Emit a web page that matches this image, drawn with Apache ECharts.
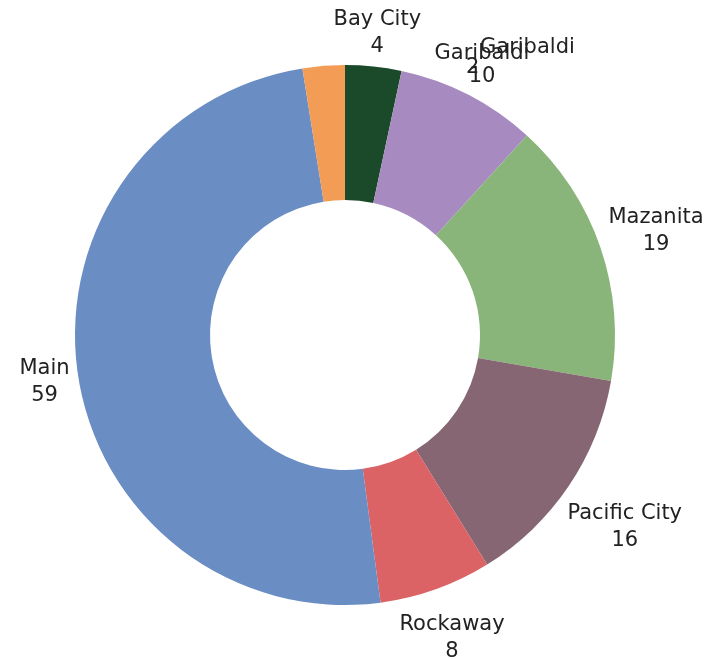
<!DOCTYPE html>
<html>
<head>
<meta charset="utf-8">
<script src="https://cdn.jsdelivr.net/npm/echarts@6/dist/echarts.min.js"></script>
<style>
  html, body { margin: 0; padding: 0; background: #fff; }
  #chart { width: 715px; height: 659px; }
</style>
</head>
<body>
<div id="chart"></div>
<script>
var names = ['Bay City', 'Garibaldi', 'Mazanita', 'Pacific City', 'Rockaway', 'Main', 'Garibaldi']
// slice sizes as drawn (the last slice is drawn wider than its printed value)
var values = [4, 10, 19, 16, 8, 59, 3]
// numbers printed in the labels
var labelValues = [4, 10, 19, 16, 8, 59, 2]
var colors = ['#1a4a2a', '#a78bc0', '#8ab57a', '#876673', '#db6366', '#6a8dc4', '#f39c55']

var cx = 345, cy = 335, rOuter = 270, rInner = 135
var fontFamily = 'DejaVu Sans'
var total = values.reduce(function (a, b) { return a + b }, 0)

// mid angle of every slice, clockwise from 12 o'clock
var midAngles = []
var acc = 0
values.forEach(function (v) {
    midAngles.push(Math.PI / 2 - (acc + v / 2) / total * Math.PI * 2)
    acc += v
})

var seriesData = names.map(function (n, i) {
    var item = { name: n, value: values[i], itemStyle: { color: colors[i] } }
    if (i === 1) {
        item.label = { lineHeight: 23 }
    }
    if (i === 6) {
        // in the original this label sits on top of its neighbour's
        item.label = {
            formatter: '{n|' + n + '}\n{v|' + labelValues[i] + '}',
            rich: {
                n: { fontSize: 21, color: '#222', fontFamily: fontFamily, lineHeight: 20, align: 'left', padding: [0, 0, 0, 14] },
                v: { fontSize: 21, color: '#222', fontFamily: fontFamily, lineHeight: 20, align: 'left' }
            }
        }
    }
    return item
})

var myChart = echarts.init(document.getElementById('chart'))
var option = {
    animation: false,
    series: [
        {
            type: 'pie',
            center: [cx, cy],
            radius: [rInner, rOuter],
            startAngle: 90,
            clockwise: true,
            avoidLabelOverlap: false,
            itemStyle: { borderWidth: 0 },
            label: {
                show: true,
                position: 'outside',
                formatter: function (p) {
                    return p.name + '\n' + labelValues[p.dataIndex]
                },
                fontSize: 21,
                lineHeight: 27,
                color: '#222',
                fontFamily: fontFamily
            },
            labelLine: { show: false, length: 10, length2: 0 },
            labelLayout: function (p) {
                var i = p.dataIndex
                var w = p.labelRect.width, h = p.labelRect.height
                if (i === 1) {
                    return { x: 482, y: 65, align: 'center', verticalAlign: 'middle' }
                }
                if (i === 6) {
                    return { x: 466, y: 58, align: 'left', verticalAlign: 'middle' }
                }
                var a = midAngles[i]
                var ux = Math.cos(a), uy = -Math.sin(a)
                var k = rOuter + 5 + Math.abs(ux) * w / 2 + Math.abs(uy) * h / 2
                return {
                    x: cx + ux * k,
                    y: cy + uy * k + 3,
                    align: 'center',
                    verticalAlign: 'middle'
                }
            },
            data: seriesData
        }
    ]
}
myChart.setOption(option)
</script>
</body>
</html>
